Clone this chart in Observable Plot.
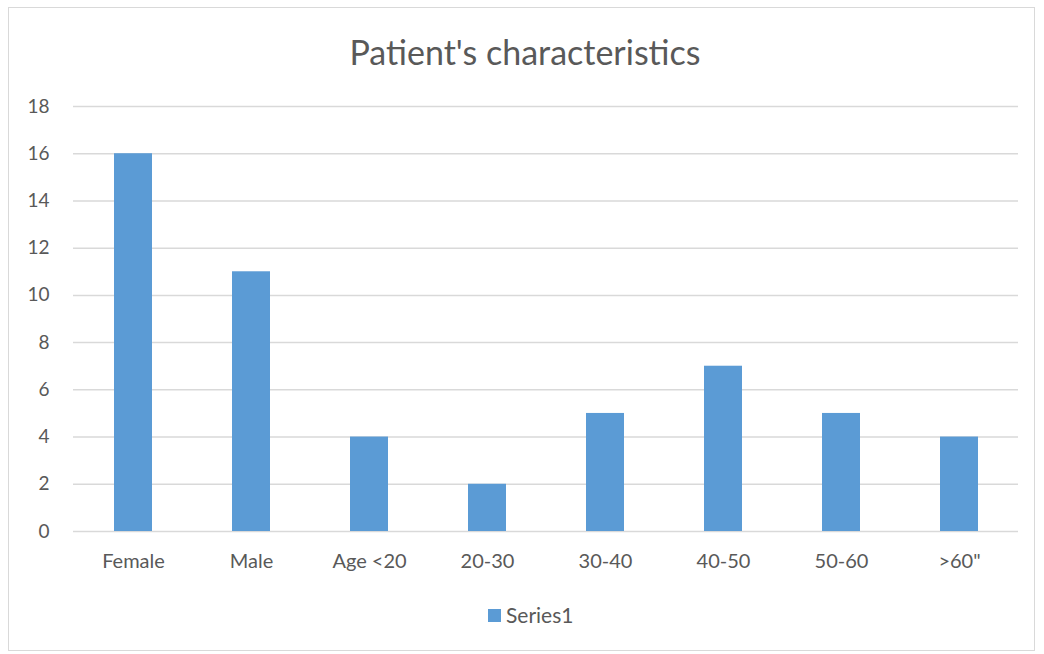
<!DOCTYPE html>
<html>
<head>
<meta charset="utf-8">
<script src="https://cdn.jsdelivr.net/npm/d3@7"></script>
<script src="https://cdn.jsdelivr.net/npm/@observablehq/plot@0.6"></script>
<style>
  html, body { margin: 0; padding: 0; background: #fff; }
  #wrap { position: relative; width: 1044px; height: 654px; font-family: Lato, "Open Sans", sans-serif; color: #595959; }
  #frame { position: absolute; left: 8px; top: 7px; width: 1027px; height: 644px; border: 1.5px solid #D9D9D9; box-sizing: border-box; }
  #title { position: absolute; left: 0; width: 1050px; top: 30px; text-align: center; font-size: 34px; line-height: 44px; color: #595959; }
  #legend { position: absolute; left: 488px; top: 602px; font-size: 21px; line-height: 26px; display: flex; align-items: center; }
  #legend .sw { width: 13px; height: 13px; background: #5B9BD5; margin-right: 5px; }
  #chart { position: absolute; left: 0; top: 0; }
</style>
</head>
<body>
<div id="wrap">
  <div id="frame"></div>
  <div id="chart"></div>
  <div id="title">Patient's characteristics</div>
  <div id="legend"><div class="sw"></div><span>Series1</span></div>
</div>
<script>
const categories = ["Female", "Male", "Age <20", "20-30", "30-40", "40-50", "50-60", ">60\""];
const series1 = [16, 11, 4, 2, 5, 7, 5, 4];
const yTicks = [0, 2, 4, 6, 8, 10, 12, 14, 16, 18];

const data = categories.map((c, i) => ({category: c, value: series1[i]}));

const chart = Plot.plot({
  width: 1044,
  height: 654,
  marginLeft: 73,
  marginRight: 26,
  marginTop: 106,
  marginBottom: 123,
  style: {background: "transparent", fontFamily: "Lato, 'Open Sans', sans-serif", fontSize: "20px", color: "#595959"},
  x: {domain: categories, paddingInner: 0.68, paddingOuter: 0.34, label: null, tickSize: 0},
  y: {domain: [0, 18], ticks: yTicks, label: null, tickSize: 0},
  marks: [
    Plot.gridY(yTicks, {stroke: "#D9D9D9", strokeOpacity: 1, strokeWidth: 1.5}),
    Plot.barY(data, {x: "category", y: "value", fill: "#5B9BD5"}),
    Plot.axisX({tickSize: 0, tickPadding: 22, fontSize: 20, fill: "#595959"}),
    Plot.axisY(yTicks, {tickSize: 0, tickPadding: 24, fontSize: 19, fill: "#595959"})
  ]
});
document.getElementById("chart").appendChild(chart);
</script>
</body>
</html>
